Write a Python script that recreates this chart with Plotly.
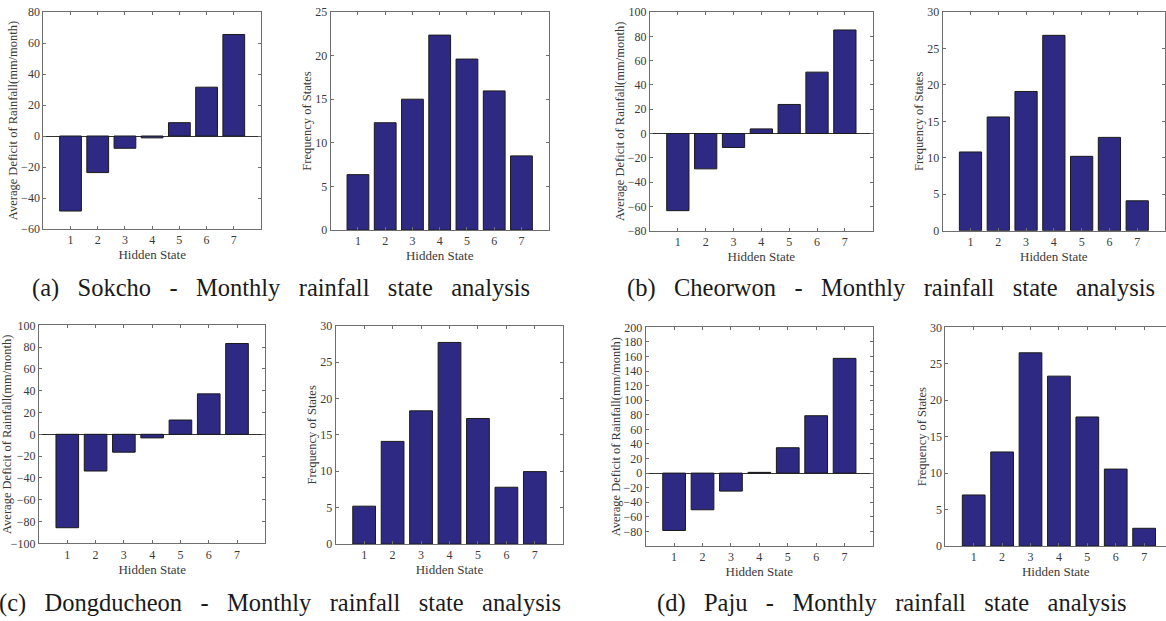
import plotly.graph_objects as go

W, H = 1166, 621

states = [1, 2, 3, 4, 5, 6, 7]

sokcho_deficit = [-48.4, -23.6, -7.9, -1.2, 8.6, 31.5, 65.5]
sokcho_freq = [6.35, 12.3, 15.0, 22.35, 19.6, 15.95, 8.5]
cheorwon_deficit = [-63.5, -29.1, -11.5, 3.8, 23.9, 50.5, 85.2]
cheorwon_freq = [10.8, 15.6, 19.1, 26.8, 10.2, 12.8, 4.1]
dongducheon_deficit = [-85.7, -33.7, -16.4, -3.3, 13.1, 37.1, 83.3]
dongducheon_freq = [5.2, 14.1, 18.3, 27.7, 17.25, 7.8, 9.95]
paju_deficit = [-78.7, -50.3, -24.7, 1.0, 34.8, 78.7, 157.4]
paju_freq = [7.0, 12.9, 26.5, 23.3, 17.7, 10.55, 2.43]

captions = [
    "(a) Sokcho - Monthly rainfall state analysis",
    "(b) Cheorwon - Monthly rainfall state analysis",
    "(c) Dongducheon - Monthly rainfall state analysis",
    "(d) Paju - Monthly rainfall state analysis",
]

deficit_title = "Average Deficit of Rainfall(mm/month)"
freq_title = "Frequency of States"
x_title = "Hidden State"

# panel pixel boxes: (x0, x1, y0, y1, xmax, yrange, dtick, tickvals, series, ytitle)
panels = [
    (43.3, 261.0, 12.0, 229.0, 8, [-60, 80], 20, None, sokcho_deficit, deficit_title),
    (330.7, 548.7, 12.0, 230.0, 8, [0, 25], 5, None, sokcho_freq, freq_title),
    (650.0, 872.7, 12.0, 230.7, 8, [-80, 100], 20, None, cheorwon_deficit, deficit_title),
    (942.7, 1165.0, 12.0, 230.7, 8, [0, 30], 5, None, cheorwon_freq, freq_title),
    (39.0, 265.3, 325.3, 543.3, 8, [-100, 100], 20, None, dongducheon_deficit, deficit_title),
    (335.7, 563.3, 325.7, 544.0, 8, [0, 30], 5, None, dongducheon_freq, freq_title),
    (645.7, 873.0, 327.3, 546.0, 8, [-100, 200], 20, list(range(-80, 201, 20)), paju_deficit, deficit_title),
    (945.3, 1166.0, 327.3, 546.0, 7.77, [0, 30], 5, None, paju_freq, freq_title),
]

BAR = "#2e2a84"
AXC = "#6e6e6e"
TXT = "#3a3a3a"
FONT = "Liberation Serif, 'Times New Roman', Times, 'DejaVu Serif', serif"

fig = go.Figure()
layout = dict(
    width=W, height=H,
    margin=dict(l=0, r=0, t=0, b=0),
    paper_bgcolor="white", plot_bgcolor="white",
    showlegend=False,
    font=dict(family=FONT, color=TXT, size=11),
)

for i, (x0, x1, y0, y1, xmax, yr, dt, tv, vals, yt) in enumerate(panels):
    n = i + 1
    xa = "x" if n == 1 else f"x{n}"
    ya = "y" if n == 1 else f"y{n}"
    fig.add_trace(go.Bar(
        x=states, y=vals, xaxis=xa, yaxis=ya, width=0.8,
        marker=dict(color=BAR, line=dict(color="#1a1a1a", width=1)),
    ))
    xkey = "xaxis" if n == 1 else f"xaxis{n}"
    ykey = "yaxis" if n == 1 else f"yaxis{n}"
    is_deficit = yr[0] < 0
    last = (n == 8)
    layout[xkey] = dict(
        domain=[x0 / W, min(x1 / W, 1.0)], anchor=ya, range=[0, xmax],
        tickvals=states, ticks="inside", ticklen=3, tickcolor=AXC,
        showline=True, linecolor=AXC, linewidth=1, mirror="ticks",
        showgrid=False, zeroline=False, automargin=False,
        tickfont=dict(family=FONT, size=12, color=TXT),
        title=dict(text=x_title, font=dict(family=FONT, size=13, color=TXT), standoff=0),
        fixedrange=True,
    )
    ydict = dict(
        domain=[1 - y1 / H, 1 - y0 / H], anchor=xa, range=yr,
        ticks="inside", ticklen=3, tickcolor=AXC,
        showline=True, linecolor=AXC, linewidth=1, mirror=(False if last else "ticks"),
        showgrid=False, automargin=False,
        zeroline=is_deficit, zerolinecolor="#333333", zerolinewidth=1,
        tickfont=dict(family=FONT, size=12, color=TXT),
        title=dict(text=yt, font=dict(family=FONT, size=12.5, color=TXT), standoff=0),
        fixedrange=True,
    )
    if tv is not None:
        ydict["tickvals"] = tv
    else:
        ydict["dtick"] = dt
        ydict["tick0"] = 0
    layout[ykey] = ydict

fig.update_layout(**layout)

cap_pos = [(30, 288), (625, 288), (-3, 603), (655, 603)]
sp = "&nbsp;&nbsp; "
for (px, py), txt in zip(cap_pos, captions):
    fig.add_annotation(
        x=px / W, y=1 - py / H, xref="paper", yref="paper",
        xanchor="left", yanchor="middle", showarrow=False,
        text=txt.replace(" ", sp),
        font=dict(family=FONT, size=24.5, color="#1a1a1a"),
    )

fig.write_html("out.html", config={"displayModeBar": False},
               post_script="document.body.style.margin='0';document.body.style.padding='0';")
